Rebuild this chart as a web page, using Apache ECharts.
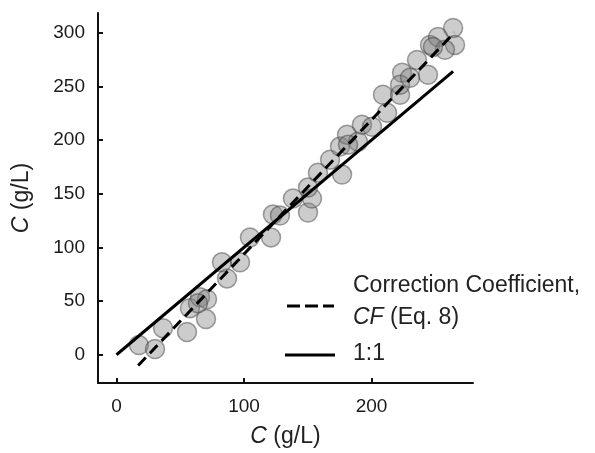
<!DOCTYPE html>
<html>
<head>
<meta charset="utf-8">
<script src="https://cdn.jsdelivr.net/npm/echarts@6/dist/echarts.min.js"></script>
<style>html,body{margin:0;padding:0;background:#fff;}#chart{width:595px;height:453px;}</style>
</head>
<body>
<div id="chart"></div>
<script>
// Measured concentration (x) and predicted concentration (y), g/L
var measuredC = [17.6,30.2,36.5,55.3,70.2,57.6,65.5,71.0,63.9,86.7,82.7,96.9,104.7,121.2,122.7,128.2,150.2,138.4,153.3,150.2,158.0,167.5,176.9,175.3,180.8,189.4,192.5,181.6,200.4,212.2,209.0,222.4,224.0,222.4,235.7,244.3,230.2,245.9,252.2,264.0,265.5,257.6,248.2];
var predictedC = [9.0,5.3,24.8,21.1,33.2,43.4,53.6,51.7,48.0,71.1,86.1,86.1,109.3,109.3,130.7,129.7,132.5,145.5,145.5,155.7,169.6,181.7,167.8,193.9,205.0,198.5,214.3,195.7,212.4,225.4,242.2,242.2,262.6,251.5,274.6,260.7,257.9,288.6,296.0,304.3,288.6,284.0,286.7];
// Correction coefficient fit line endpoints
var cfLineX = [17, 265];
var cfLineY = [-10, 300];
// 1:1 line endpoints
var oneLineX = [0, 264];
var oneLineY = [0, 264];
var xTicks = [0, 100, 200];
var yTicks = [0, 50, 100, 150, 200, 250, 300];

var pts = measuredC.map(function(v, i){ return [v, predictedC[i]]; });
var cfData = cfLineX.map(function(v, i){ return [v, cfLineY[i]]; });
var oneData = oneLineX.map(function(v, i){ return [v, oneLineY[i]]; });

var font = 'Liberation Sans, Arial, sans-serif';
var chart = echarts.init(document.getElementById('chart'), null, {renderer: 'canvas'});
var axisCommon = {
  type: 'value',
  splitLine: {show: false},
  axisLine: {show: true, onZero: false, lineStyle: {color: '#111', width: 2}},
  axisTick: {show: true, inside: true, length: 5, lineStyle: {color: '#111', width: 2}},
  nameLocation: 'middle',
  nameTextStyle: {
    fontFamily: font, fontSize: 23, color: '#222',
    rich: {i: {fontStyle: 'italic', fontFamily: font, fontSize: 23, color: '#222'},
           n: {fontFamily: font, fontSize: 23, color: '#222'}}
  }
};
chart.setOption({
  animation: false,
  backgroundColor: '#fff',
  grid: {left: 98, top: 13, right: 122, bottom: 69, containLabel: false},
  xAxis: Object.assign({}, axisCommon, {
    min: -14.5, max: 279.6,
    name: '{i|C}{n| (g/L)}', nameGap: 42,
    axisTick: Object.assign({}, axisCommon.axisTick, {customValues: xTicks}),
    axisLabel: {customValues: xTicks, margin: 14, fontFamily: font, fontSize: 19, color: '#1a1a1a'}
  }),
  yAxis: Object.assign({}, axisCommon, {
    min: -26.3, max: 318.3,
    name: '{i|C}{n| (g/L)}', nameGap: 65, nameRotate: 90,
    axisTick: Object.assign({}, axisCommon.axisTick, {customValues: yTicks}),
    axisLabel: {customValues: yTicks, margin: 13, fontFamily: font, fontSize: 19, color: '#1a1a1a'}
  }),
  series: [
    {type: 'scatter', data: pts, symbol: 'circle', symbolSize: 19, z: 2,
     itemStyle: {color: 'rgba(128,128,128,0.5)', borderColor: 'rgba(60,60,60,0.6)', borderWidth: 1.5}},
    {type: 'line', data: cfData, showSymbol: false, z: 3,
     lineStyle: {color: '#000', width: 3, type: [11, 6]}},
    {type: 'line', data: oneData, showSymbol: false, z: 3,
     lineStyle: {color: '#000', width: 3}}
  ],
  graphic: [
    {type: 'line', shape: {x1: 287, y1: 306, x2: 334, y2: 306}, style: {stroke: '#000', lineWidth: 3, lineDash: [13, 5]}},
    {type: 'text', left: 353, top: 274, style: {text: 'Correction Coefficient,', font: '23px ' + font, fill: '#222'}},
    {type: 'text', left: 353, top: 306, style: {text: '{i|CF}{n| (Eq. 8)}', font: '23px ' + font, fill: '#222',
      rich: {i: {fontStyle: 'italic', fontSize: 23, fontFamily: font, color: '#222'}, n: {fontSize: 23, fontFamily: font, color: '#222'}}}},
    {type: 'line', shape: {x1: 285, y1: 355, x2: 335, y2: 355}, style: {stroke: '#000', lineWidth: 3}},
    {type: 'text', left: 353, top: 342, style: {text: '1:1', font: '23px ' + font, fill: '#222'}}
  ]
});
</script>
</body>
</html>
